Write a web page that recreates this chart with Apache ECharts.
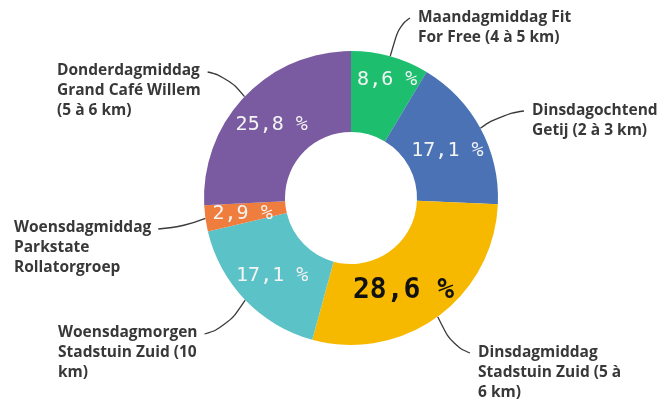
<!DOCTYPE html>
<html><head><meta charset="utf-8">
<script src="https://cdn.jsdelivr.net/npm/echarts@6/dist/echarts.min.js"></script>
<style>html,body{margin:0;padding:0;background:#fff}#c{width:669px;height:407px}</style>
</head><body><div id="c"></div>
<script>
const categories = [
  "Maandagmiddag Fit\nFor Free (4 à 5 km)",
  "Dinsdagochtend\nGetij (2 à 3 km)",
  "Dinsdagmiddag\nStadstuin Zuid (5 à\n6 km)",
  "Woensdagmorgen\nStadstuin Zuid (10\nkm)",
  "Woensdagmiddag\nParkstate\nRollatorgroep",
  "Donderdagmiddag\nGrand Café Willem\n(5 à 6 km)"
];
const values = [8.6, 17.1, 28.6, 17.1, 2.9, 25.8];
const colors = ["#1dbf6f", "#4a72b5", "#f7b900", "#5bc2c7", "#ef7d3e", "#7a5ba1"];
// label anchor (left/top) positions for outside labels, and side the leader line attaches to
const labelPos = [[418, 8], [532, 101], [478, 343], [58, 323], [14, 218], [57, 61]];
const labelSide = ['left', 'left', 'left', 'right', 'right', 'right'];
const insideShift = [[7, -13], [0, 5], [-12, 4], [0, 2], [0, 1], [0, 2]];

const fmt = v => v.toFixed(1).replace('.', ',') + ' %';
const data = categories.map((n, i) => ({ name: n, value: values[i], itemStyle: { color: colors[i] } }));
const chart = echarts.init(document.getElementById('c'));
chart.setOption({
  animation: false,
  series: [
    {
      type: 'pie', center: [351, 198], radius: [66, 147], startAngle: 90, clockwise: true,
      data: data,
      label: {
        position: 'outside', color: '#383838', fontFamily: 'Open Sans', fontWeight: 'bold',
        fontSize: 15.5, lineHeight: 20, align: 'left'
      },
      labelLine: { show: true, smooth: 0.5, length: 10, length2: 10, lineStyle: { color: '#3a3a3a', width: 1.3 } },
      labelLayout: p => {
        const i = p.dataIndex;
        const [x, y] = labelPos[i];
        const start = p.labelLinePoints[0];
        const end = labelSide[i] === 'left' ? [x - 8, y + 10] : [x + p.labelRect.width + 7, y + 11];
        const mid = [end[0] + (start[0] - end[0]) * 0.55, end[1] + (start[1] - end[1]) * 0.2];
        return { x, y, align: 'left', verticalAlign: 'top', labelLinePoints: [start, mid, end] };
      },
      emphasis: { disabled: true }
    },
    {
      type: 'pie', center: [351, 198], radius: [66, 147], startAngle: 90, clockwise: true, silent: true,
      data: data.map((d, i) => ({ name: d.name, value: d.value, itemStyle: { color: 'rgba(0,0,0,0)' },
        label: i === 2 ? { color: '#111', fontSize: 28, fontWeight: 'bold' } : {} })),
      label: {
        position: 'inside', formatter: p => fmt(p.value), color: '#f4f4f4',
        fontFamily: 'DejaVu Sans Mono', fontSize: 20
      },
      labelLine: { show: false },
      labelLayout: p => ({ dx: insideShift[p.dataIndex][0], dy: insideShift[p.dataIndex][1] }),
      emphasis: { disabled: true }
    }
  ]
});
</script></body></html>
